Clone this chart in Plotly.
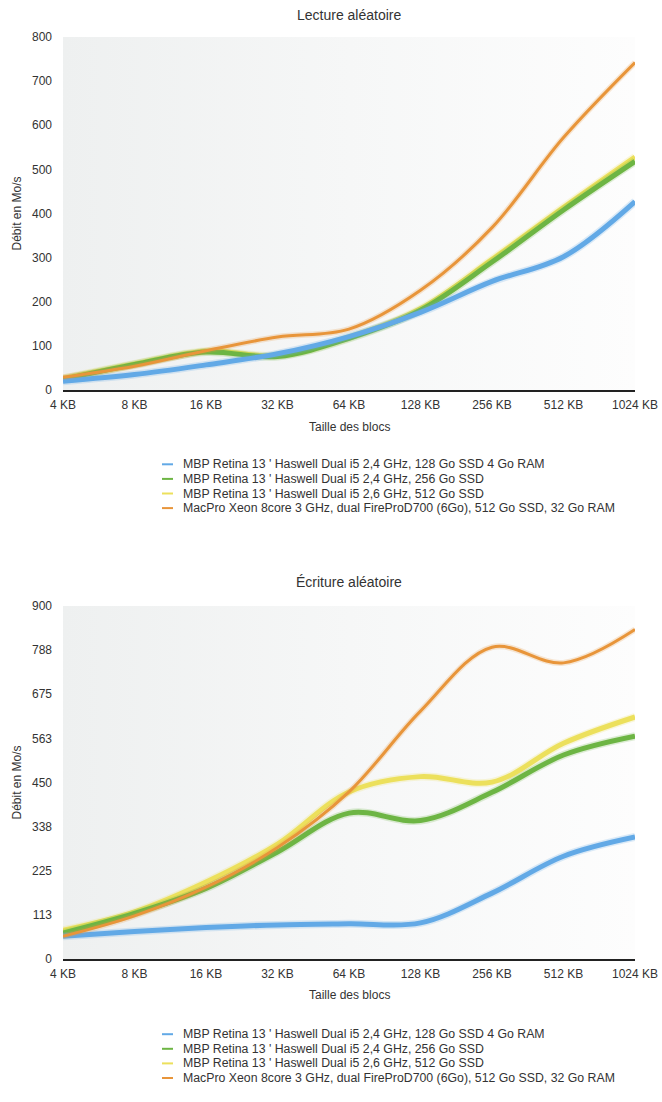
import plotly.graph_objects as go

# ---------------- data ----------------
categories = ["4 KB", "8 KB", "16 KB", "32 KB", "64 KB", "128 KB", "256 KB", "512 KB", "1024 KB"]

series_names = [
    "MBP Retina 13 ' Haswell Dual i5 2,4 GHz, 128 Go SSD 4 Go RAM",
    "MBP Retina 13 ' Haswell Dual i5 2,4 GHz, 256 Go SSD",
    "MBP Retina 13 ' Haswell Dual i5 2,6 GHz, 512 Go SSD",
    "MacPro Xeon 8core 3 GHz, dual FireProD700 (6Go), 512 Go SSD, 32 Go RAM",
]

# Lecture aléatoire (Mo/s)
read_blue = [20, 35, 57, 82, 121, 176, 246, 302, 427]
read_green = [24, 58, 86, 76, 117, 181, 290, 408, 518]
read_yellow = [26, 59, 88, 78, 119, 184, 296, 414, 528]
read_orange = [29, 54, 89, 120, 138, 226, 368, 572, 742]

# Écriture aléatoire (Mo/s)
write_blue = [58, 70, 80, 87, 90, 92, 168, 262, 311]
write_green = [66, 116, 180, 273, 372, 353, 425, 520, 568]
write_yellow = [73, 120, 196, 293, 426, 465, 451, 550, 617]
write_orange = [58, 110, 183, 284, 426, 632, 795, 755, 840]

read_ticks = [0, 100, 200, 300, 400, 500, 600, 700, 800]
read_ticktext = ["0", "100", "200", "300", "400", "500", "600", "700", "800"]
write_ticks = [0, 112.5, 225, 337.5, 450, 562.5, 675, 787.5, 900]
write_ticktext = ["0", "113", "225", "338", "450", "563", "675", "788", "900"]

titles = ["Lecture aléatoire", "Écriture aléatoire"]
x_title = "Taille des blocs"
y_title = "Débit en Mo/s"

# ---------------- style ----------------
W, H = 662, 1102
colors = ["#62a9e6", "#6db544", "#ece05c", "#e8953a"]
widths = [5, 5, 5, 3]
draw_order = [2, 1, 0, 3]
FONT = "Liberation Sans, Arial, Helvetica, sans-serif"
TXT = "#333333"

PX_L, PX_R = 63, 635
panels = [
    dict(top=37, bottom=390, vals=[read_blue, read_green, read_yellow, read_orange],
         ticks=read_ticks, ticktext=read_ticktext, title_y=15, xt_y=427, leg_y=464.3),
    dict(top=606, bottom=959, vals=[write_blue, write_green, write_yellow, write_orange],
         ticks=write_ticks, ticktext=write_ticktext, title_y=582, xt_y=995, leg_y=1034.2),
]

def py(v):
    return 1 - v / H

def px(v):
    return v / W

xidx = list(range(len(categories)))
fig = go.Figure()
annotations = []
shapes = []

for p_i, p in enumerate(panels):
    n = "" if p_i == 0 else str(p_i + 1)
    xa, ya = "x" + n, "y" + n
    ymax = p["ticks"][-1]
    xmax = xidx[-1]
    # background gradient of plot area
    fig.add_trace(go.Scatter(
        x=[0, xmax, xmax, 0, 0], y=[0, 0, ymax, ymax, 0], xaxis=xa, yaxis=ya,
        mode="lines", line=dict(width=0), fill="toself",
        fillgradient=dict(type="horizontal",
                          colorscale=[[0, "#eef0f0"], [0.5, "#f6f7f7"], [1, "#fdfdfd"]]),
        hoverinfo="skip", showlegend=False))
    for s in draw_order:
        fig.add_trace(go.Scatter(
            x=xidx, y=p["vals"][s], xaxis=xa, yaxis=ya, mode="lines",
            line=dict(color=colors[s], width=widths[s] + 3, shape="spline", smoothing=1),
            opacity=0.22, hoverinfo="skip", showlegend=False))
        fig.add_trace(go.Scatter(
            x=xidx, y=p["vals"][s], xaxis=xa, yaxis=ya, mode="lines",
            name=series_names[s],
            line=dict(color=colors[s], width=widths[s], shape="spline", smoothing=1),
            showlegend=False))

    dom_y = [py(p["bottom"]), py(p["top"])]
    fig.update_layout(**{
        "xaxis" + n: dict(
            domain=[px(PX_L), px(PX_R)], range=[0, xmax], anchor=ya,
            tickmode="array", tickvals=xidx, ticktext=categories,
            showgrid=True, gridcolor="#e4e7e7", gridwidth=1, zeroline=False,
            showline=True, linecolor="#222222", linewidth=2,
            ticks="", ticklabelstandoff=3,
            tickfont=dict(family=FONT, size=12, color=TXT), automargin=False),
        "yaxis" + n: dict(
            domain=dom_y, range=[0, ymax], anchor=xa,
            tickmode="array", tickvals=p["ticks"], ticktext=p["ticktext"],
            showgrid=True, gridcolor="#eaecec", gridwidth=1, zeroline=False,
            showline=False, ticks="", ticklabelstandoff=10,
            tickfont=dict(family=FONT, size=12, color=TXT), automargin=False),
    })

    annotations.append(dict(text=titles[p_i], x=px((PX_L + PX_R) / 2), y=py(p["title_y"]),
                            xref="paper", yref="paper", showarrow=False,
                            xanchor="center", yanchor="middle",
                            font=dict(family=FONT, size=14, color=TXT)))
    annotations.append(dict(text=x_title, x=px((PX_L + PX_R) / 2), y=py(p["xt_y"]),
                            xref="paper", yref="paper", showarrow=False,
                            xanchor="center", yanchor="middle",
                            font=dict(family=FONT, size=12, color=TXT)))
    annotations.append(dict(text=y_title, x=px(16), y=py((p["top"] + p["bottom"]) / 2),
                            xref="paper", yref="paper", showarrow=False, textangle=-90,
                            xanchor="center", yanchor="middle",
                            font=dict(family=FONT, size=12, color=TXT)))
    # custom legend
    for s in range(len(series_names)):
        yy = p["leg_y"] + s * 14.6
        shapes.append(dict(type="line", xref="paper", yref="paper",
                           x0=px(162), x1=px(173), y0=py(yy), y1=py(yy),
                           line=dict(color=colors[s], width=2)))
        annotations.append(dict(text=series_names[s], x=px(181), y=py(yy),
                                xref="paper", yref="paper", showarrow=False,
                                xanchor="left", yanchor="middle",
                                font=dict(family=FONT, size=12.3, color=TXT)))

fig.update_layout(
    width=W, height=H, margin=dict(l=0, r=0, t=0, b=0),
    paper_bgcolor="white", plot_bgcolor="rgba(0,0,0,0)",
    showlegend=False, annotations=annotations, shapes=shapes,
    font=dict(family=FONT, color=TXT),
)

fig.write_html(
    "out.html",
    config={"displayModeBar": False},
    post_script="document.body.style.margin='0';document.body.style.overflow='hidden';"
                "document.documentElement.style.overflow='hidden';",
)
